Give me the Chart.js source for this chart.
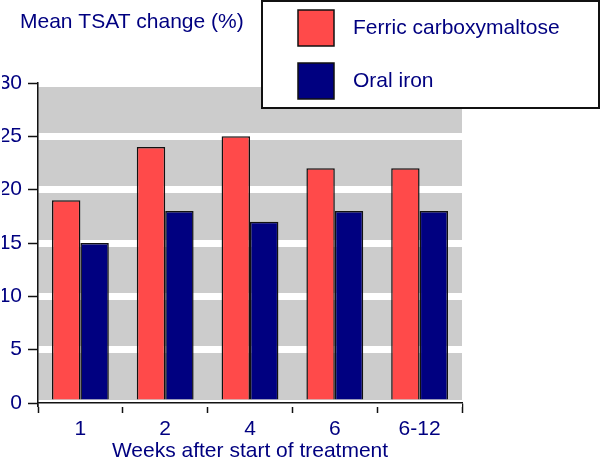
<!DOCTYPE html>
<html lang="en">
<head>
  <meta charset="UTF-8">
  <title>Mean TSAT change</title>
  <script src="https://cdn.jsdelivr.net/npm/chart.js@4.4.1/dist/chart.umd.min.js"></script>
  <style>
    html, body { margin: 0; padding: 0; background: #fff; }
    #wrap { width: 600px; height: 464px; }
  </style>
</head>
<body>
  <div id="wrap"><canvas id="grafico"></canvas></div>
  <script>
    const semanas = ['1', '2', '4', '6', '6-12'];
    const ferrico = [19, 24, 25, 22, 22];
    const oral = [15, 18, 17, 18, 18];
    const ticksY = [0, 5, 10, 15, 20, 25, 30];

    const azul = '#000080';
    const fuente = { family: "'Liberation Sans', Arial, sans-serif", size: 21 };

    // fondo gris del area de datos (las lineas blancas son la rejilla)
    const fondo = {
      id: 'fondo',
      beforeDraw(chart) {
        const { ctx, chartArea: a } = chart;
        ctx.save();
        ctx.fillStyle = '#cccccc';
        ctx.fillRect(a.left, a.top, a.right - a.left, a.bottom - a.top);
        ctx.restore();
      }
    };

    // titulo del eje y y leyenda en recuadro
    const extras = {
      id: 'extras',
      afterDraw(chart) {
        const ctx = chart.ctx;
        ctx.save();
        ctx.font = `${fuente.size}px ${fuente.family}`;
        ctx.fillStyle = azul;
        ctx.textBaseline = 'middle';
        ctx.textAlign = 'left';
        ctx.fillText('Mean TSAT change (%)', 20, 22);

        ctx.fillStyle = '#fff';
        ctx.fillRect(262, 1, 337, 107);
        ctx.lineWidth = 2;
        ctx.strokeStyle = '#111';
        ctx.strokeRect(262, 1, 337, 107);

        chart.data.datasets.forEach((ds, i) => {
          const y = 10 + i * 53;
          ctx.fillStyle = ds.backgroundColor;
          ctx.fillRect(298, y, 36, 36);
          ctx.lineWidth = 1.5;
          ctx.strokeStyle = '#111';
          ctx.strokeRect(298, y, 36, 36);
          ctx.fillStyle = azul;
          ctx.fillText(ds.label, 353, y + 18);
        });
        ctx.restore();
      }
    };

    new Chart(document.getElementById('grafico'), {
      type: 'bar',
      data: {
        labels: semanas,
        datasets: [
          { label: 'Ferric carboxymaltose', data: ferrico, backgroundColor: '#ff4a4a', borderColor: '#111', borderWidth: 1.5 },
          { label: 'Oral iron', data: oral, backgroundColor: azul, borderColor: '#111', borderWidth: 1.5 }
        ]
      },
      options: {
        responsive: true,
        maintainAspectRatio: false,
        animation: false,
        layout: { padding: { left: 2, right: 138, top: 83, bottom: 0 } },
        datasets: { bar: { categoryPercentage: 0.67, barPercentage: 1 } },
        plugins: { legend: { display: false }, tooltip: { enabled: false } },
        scales: {
          x: {
            afterFit(scale) { scale.height = 61; },
            grid: { offset: true, drawOnChartArea: false, tickLength: 10, tickColor: '#111', tickWidth: 1.5 },
            border: { color: '#111', width: 1.5 },
            ticks: { color: azul, font: fuente, padding: 4 },
            title: { display: true, text: 'Weeks after start of treatment', color: azul, font: fuente, padding: 0 }
          },
          y: {
            min: 0,
            max: 30,
            afterBuildTicks(scale) { scale.ticks = ticksY.map(v => ({ value: v })); },
            afterFit(scale) { scale.width = 36; },
            grid: { color: '#fff', lineWidth: 7, tickLength: 10, tickColor: '#111', tickWidth: 1.5 },
            border: { color: '#111', width: 1.5 },
            ticks: { color: azul, font: fuente, padding: 6 }
          }
        }
      },
      plugins: [fondo, extras]
    });
  </script>
</body>
</html>
